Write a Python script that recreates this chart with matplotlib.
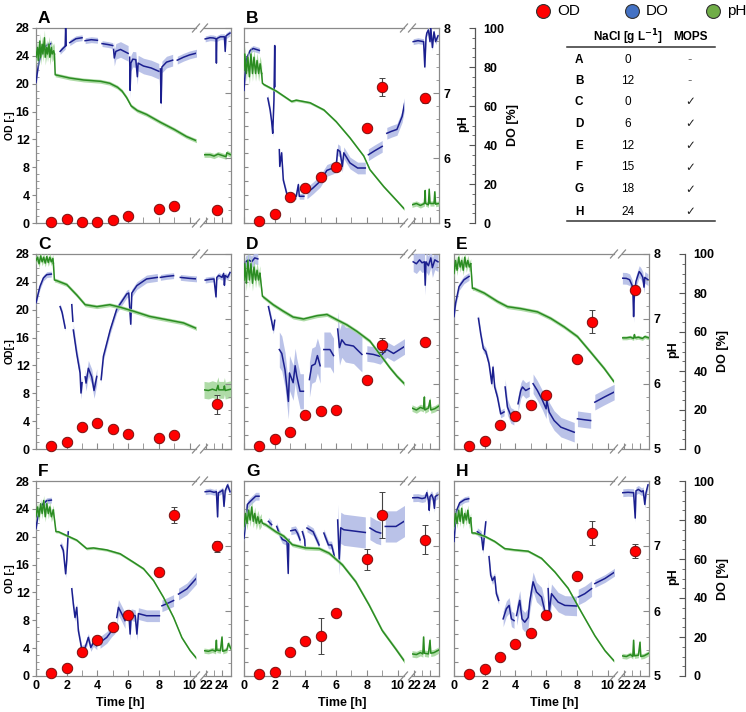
import matplotlib
matplotlib.use('Agg')
import matplotlib.pyplot as plt
import numpy as np
from matplotlib.ticker import FixedLocator, MultipleLocator, NullLocator

plt.rcParams['font.family'] = ['Liberation Sans', 'DejaVu Sans']
plt.rcParams['font.weight'] = 'bold'

# ---------------- data ----------------
OD_T = [1, 2, 3, 4, 5, 6, 8, 9, 23.4]

A_OD = [0.15, 0.6, 0.15, 0.2, 0.4, 1.0, 2.0, 2.4, 1.8]
A_OD_ERR = [0, 0, 0, 0, 0, 0, 0, 0, 0]
A_DO = [
    [(0, 72), (0.1, 78), (0.2, 83), (0.4, 88), (0.6, 90.5), (0.8, 91.5), (1.0, 92)],
    [(1.57, 88), (1.75, 89.5), (1.9, 90.6), (1.93, 100), (1.97, 91)],
    [(2.2, 92.5), (2.6, 94.5), (3.0, 95)],
    [(3.2, 93.5), (3.6, 94), (4.0, 93.7)],
    [(4.3, 92), (4.7, 91.5), (5.0, 91)],
    [(5.05, 89), (5.1, 84.6), (5.2, 88), (5.5, 89), (6.0, 87)],
    [(6.1, 85), (6.13, 68), (6.18, 82), (6.3, 84), (6.5, 83.8), (6.6, 75), (6.65, 82),
     (7.0, 80.5), (7.5, 79.5), (8.0, 77.8)],
    [(8.1, 79), (8.15, 61.5), (8.2, 80), (8.5, 82.5), (8.9, 83.5)],
    [(9.2, 83.5), (9.6, 85), (10.0, 86.2), (10.5, 87.2)],
    [(21.9, 94.4), (22.5, 95), (22.9, 94.9), (23.25, 94.5), (23.3, 82), (23.35, 94.6),
     (23.8, 95.5), (24.3, 95.5), (24.4, 88), (24.5, 96), (25.0, 97.4)],
]
A_DO_SD = [1.5, 1.5, 1.5, 1.5, 1.5, 4, 4, 3, 2, 1.5]
A_PH = [
    [(0, 7.55), (0.1, 7.7), (0.15, 7.5), (0.25, 7.8), (0.3, 7.55), (0.4, 7.75), (0.45, 7.6),
     (0.55, 7.85), (0.6, 7.55), (0.7, 7.7), (0.75, 7.6), (0.85, 7.75), (0.9, 7.55),
     (1.0, 7.7), (1.05, 7.6), (1.15, 7.65), (1.2, 7.6)],
    [(1.2, 7.6), (1.25, 7.28), (2.2, 7.23), (3.1, 7.2), (4.2, 7.18), (4.8, 7.15), (5.3, 7.09),
     (5.6, 7.03), (5.9, 6.93), (6.2, 6.8), (6.6, 6.73), (7.2, 6.67), (8.1, 6.55),
     (9.0, 6.44), (9.8, 6.33), (10.5, 6.26)],
    [(21.75, 6.05), (22.5, 6.05), (23.0, 6.03), (23.5, 6.06), (24.0, 6.04), (24.5, 6.02),
     (24.6, 6.08), (25.1, 6.05)],
]
A_PH_SD = [0.12, 0.03, 0.04]

B_OD = [0.24, 1.3, 3.8, 5.0, 6.6, 8.1, 13.6, 19.5, 17.9]
B_OD_ERR = [0, 0, 0, 0, 0, 0, 0, 1.3, 0.6]
B_DO = [
    [(0, 68), (0.1, 80), (0.2, 85), (0.4, 88.5), (0.6, 89.5), (0.8, 89), (1.0, 88.5)],
    [(1.55, 64), (1.7, 58), (1.8, 52), (1.87, 46), (1.95, 63), (2.0, 91), (2.02, 70)],
    [(2.3, 37.6), (2.33, 29), (2.45, 36), (2.56, 22), (2.8, 14.5), (3.0, 13.7), (3.4, 13.7),
     (3.54, 19.7), (3.6, 13.7), (3.9, 13.7)],
    [(4.1, 15.4), (4.5, 18), (4.96, 21.4), (5.4, 27), (5.8, 28.2), (6.0, 29), (6.1, 37.6),
     (6.25, 36.7), (6.4, 29), (6.5, 36), (6.9, 30.8), (7.4, 28.2), (7.9, 28.2)],
    [(8.1, 35), (8.5, 37), (9.0, 39.3)],
    [(9.3, 46), (9.6, 47), (9.96, 48), (10.3, 54.7), (10.5, 63.2)],
    [(21.9, 93), (22.5, 93.5), (23.2, 93), (23.35, 80), (23.5, 95), (23.6, 97.4), (23.8, 99),
     (24.0, 93), (24.1, 100), (24.3, 90), (24.5, 98), (24.7, 93), (25.0, 96)],
]
B_DO_SD = [1.5, 2, 1.5, 3, 3, 3, 1.5]
B_PH = [
    [(0, 7.35), (0.05, 7.6), (0.15, 7.3), (0.25, 7.55), (0.35, 7.25), (0.45, 7.6), (0.55, 7.3),
     (0.65, 7.55), (0.75, 7.3), (0.85, 7.5), (0.95, 7.3), (1.05, 7.45), (1.15, 7.3)],
    [(1.15, 7.3), (1.2, 7.15), (1.3, 7.13), (2.1, 7.03), (3.1, 6.87), (3.4, 6.89), (4.3, 6.85),
     (5.2, 6.74), (6.0, 6.56), (6.9, 6.31), (7.8, 6.03), (8.2, 5.82), (9.1, 5.56),
     (10.0, 5.33), (10.5, 5.2)],
    [(21.75, 5.28), (22.3, 5.3), (22.8, 5.27), (23.3, 5.3), (23.4, 5.5), (23.45, 5.3),
     (23.8, 5.28), (23.9, 5.52), (24.0, 5.3), (24.5, 5.3), (24.6, 5.48), (24.7, 5.29),
     (25.1, 5.3)],
]
B_PH_SD = [0.12, 0.02, 0.04]

C_OD = [0.38, 1.05, 3.16, 3.7, 2.9, 2.2, 1.6, 2.0, 6.4]
C_OD_ERR = [0, 0, 0, 0, 0, 0, 0, 0, 1.4]
C_DO = [
    [(0, 75), (0.15, 80), (0.26, 83.4), (0.48, 87.7), (0.7, 89.4), (1.0, 89.7)],
    [(1.57, 73), (1.7, 70), (1.9, 62)],
    [(2.33, 74), (2.4, 65.5)],
    [(2.43, 61), (2.65, 49), (2.87, 39), (2.93, 28.7), (3.0, 34)],
    [(3.2, 37), (3.26, 33.8), (3.41, 41.4), (3.63, 37), (3.78, 30), (3.96, 37.2)],
    [(4.24, 35.6), (4.39, 47.5), (4.83, 61), (5.26, 71.8), (5.7, 77), (5.91, 79.5),
     (6.04, 80), (6.17, 64), (6.24, 80), (6.57, 83.8), (7.2, 87.2), (7.9, 88)],
    [(8.1, 88), (8.5, 88.5), (8.96, 88.9)],
    [(9.4, 88), (10.0, 87.5), (10.5, 87.2)],
    [(21.9, 86.6), (22.5, 87), (23.0, 87.2), (23.25, 78), (23.35, 88), (23.6, 89),
     (24.0, 88), (24.2, 90), (24.3, 84), (24.4, 89), (24.7, 88), (25.0, 90.5)],
]
C_DO_SD = [1.5, 1.5, 1.5, 3, 4, 2, 1.5, 1.5, 1.5]
C_PH = [
    [(0, 7.9), (0.1, 7.95), (0.2, 7.85), (0.3, 7.97), (0.4, 7.88), (0.5, 7.95), (0.6, 7.86),
     (0.7, 7.96), (0.8, 7.87), (0.9, 7.95), (1.0, 7.88), (1.1, 7.93), (1.13, 7.86)],
    [(1.13, 7.86), (1.2, 7.6), (1.35, 7.59), (2.0, 7.53), (2.65, 7.37), (3.2, 7.22),
     (3.96, 7.19), (4.8, 7.22), (5.5, 7.18), (6.35, 7.12), (7.4, 7.04), (8.5, 6.99),
     (9.6, 6.94), (10.5, 6.85)],
    [(21.75, 5.91), (22.3, 5.9), (22.8, 5.92), (23.3, 5.9), (23.5, 5.98), (23.6, 5.91),
     (24.2, 5.91), (24.3, 5.97), (24.4, 5.9), (25.1, 5.92)],
]
C_PH_SD = [0.06, 0.03, 0.13]

D_OD = [0.48, 1.44, 2.44, 4.9, 5.4, 5.55, 9.9, 15.0, 15.3]
D_OD_ERR = [0, 0, 0, 0, 0, 0, 0, 1.0, 0]
D_DO = [
    [(0, 90), (0.1, 96), (0.3, 97), (0.5, 96), (0.7, 98), (0.9, 97.5)],
    [(1.59, 73), (1.8, 65.5), (1.91, 61), (2.0, 66)],
    [(2.3, 51), (2.46, 49), (2.67, 40.6), (2.89, 24.4), (2.96, 39), (3.2, 34), (3.33, 42.7),
     (3.43, 37.6), (3.65, 29.6), (3.87, 29.6)],
    [(4.26, 35.6), (4.41, 42.7), (4.63, 43.6), (4.78, 47.9), (4.96, 42.7)],
    [(5.2, 51), (5.6, 51), (5.83, 47.9)],
    [(6.1, 61.5), (6.22, 52), (6.37, 56), (6.6, 53.6), (7.13, 52.8), (7.46, 50.2),
     (7.68, 48.5)],
    [(8.0, 49), (8.43, 48.5), (8.87, 47.5), (9.3, 51), (9.74, 49), (10.5, 52.8)],
    [(21.9, 96), (22.3, 95), (22.7, 97), (23.0, 95.5), (23.3, 96), (23.4, 84), (23.5, 96),
     (23.8, 94), (24.1, 98), (24.3, 93), (24.6, 97), (25.0, 96)],
]
D_DO_SD = [3, 2, 9, 9, 9, 9, 4, 5]
D_PH = [
    [(0, 7.6), (0.05, 7.85), (0.15, 7.55), (0.25, 7.9), (0.35, 7.6), (0.45, 7.85),
     (0.55, 7.55), (0.65, 7.8), (0.75, 7.6), (0.85, 7.75), (0.95, 7.6), (1.04, 7.7)],
    [(1.04, 7.7), (1.2, 7.35), (1.9, 7.22), (2.56, 7.12), (3.2, 7.03), (3.87, 7.0),
     (4.74, 7.05), (5.4, 7.07), (6.04, 6.99), (6.7, 6.91), (7.35, 6.81), (8.2, 6.66),
     (8.87, 6.45), (9.5, 6.25), (9.96, 6.12), (10.5, 5.99)],
    [(21.75, 5.63), (22.3, 5.6), (22.8, 5.64), (23.2, 5.62), (23.3, 5.8), (23.35, 5.6),
     (23.8, 5.63), (24.0, 5.75), (24.1, 5.6), (24.6, 5.62), (25.1, 5.66)],
]
D_PH_SD = [0.12, 0.03, 0.05]

E_OD = [0.38, 1.2, 3.4, 4.7, 6.25, 7.8, 12.9, 18.3, 22.9]
E_OD_ERR = [0, 0, 0, 0, 0, 0, 0, 1.6, 0]
E_DO = [
    [(0, 67.9), (0.1, 74.7), (0.33, 83.3), (0.65, 86.8), (0.98, 88.5)],
    [(1.59, 67), (1.74, 59), (1.91, 51.5), (2.07, 50), (2.28, 43.8), (2.46, 33.5),
     (2.54, 42), (2.65, 31.8), (2.83, 26.6), (3.04, 18), (3.26, 19)],
    [(3.33, 31.8), (3.48, 21.5), (3.7, 17.2), (3.9, 16.3)],
    [(4.17, 23.2), (4.35, 30), (4.46, 31.8), (4.67, 30), (4.9, 31)],
    [(5.15, 33.5), (5.43, 30), (5.76, 25), (6.0, 20.6), (6.04, 25), (6.2, 18.9),
     (6.52, 14.6), (6.96, 11.2), (7.83, 8.6)],
    [(8.04, 15.5), (8.5, 15), (8.9, 14.6)],
    [(9.17, 24), (9.78, 26.6), (10.43, 29.2)],
    [(21.8, 87.6), (22.3, 87.5), (22.7, 86.8), (23.0, 84), (23.1, 82.5), (23.2, 67.9),
     (23.3, 80), (23.5, 86), (23.9, 91), (24.1, 90), (24.35, 88), (24.5, 83), (24.6, 88),
     (25.0, 86.8)],
]
E_DO_SD = [2, 2, 4, 4, 5, 4, 4, 3]
E_PH = [
    [(0, 7.7), (0.1, 7.9), (0.2, 7.75), (0.3, 7.95), (0.4, 7.8), (0.5, 7.9), (0.6, 7.75),
     (0.7, 7.95), (0.8, 7.8), (0.9, 7.9), (1.0, 7.8), (1.09, 7.85)],
    [(1.09, 7.85), (1.2, 7.47), (1.3, 7.47), (1.96, 7.4), (2.83, 7.27), (3.48, 7.19),
     (4.35, 7.16), (5.43, 7.11), (6.3, 7.01), (7.17, 6.88), (8.04, 6.73), (8.9, 6.49),
     (9.78, 6.24), (10.4, 6.04)],
    [(21.75, 6.71), (22.3, 6.71), (22.8, 6.72), (23.2, 6.7), (23.3, 6.76), (23.4, 6.71),
     (23.8, 6.72), (24.3, 6.7), (24.6, 6.73), (25.1, 6.71)],
]
E_PH_SD = [0.08, 0.03, 0.03]

F_OD = [0.43, 1.1, 3.5, 5.2, 7.0, 8.76, 14.9, 23.1, 18.6]
F_OD_ERR = [0, 0, 0, 0, 0, 0, 0, 1.2, 0.8]
F_DO = [
    [(0, 75.6), (0.15, 83.3), (0.37, 87.6), (0.7, 89.9), (1.0, 90.2)],
    [(1.63, 67), (1.78, 64.4), (1.93, 52.4), (2.0, 59.3), (2.1, 73.9)],
    [(2.33, 44.7), (2.43, 37), (2.54, 30), (2.65, 35.2), (2.76, 23.2), (2.98, 13.7),
     (3.2, 14.6), (3.41, 19.8), (3.57, 14.6), (3.74, 17.2), (3.96, 15.5)],
    [(4.17, 17.2), (4.61, 19.8), (4.93, 23.2), (5.15, 24.9)],
    [(5.26, 30), (5.37, 35.2), (5.59, 31.8), (5.8, 28.4)],
    [(6.04, 32.6), (6.13, 21.5), (6.2, 31.5), (6.46, 30.9), (6.57, 21.5), (6.67, 32),
     (7.2, 30.9), (8.04, 30.9)],
    [(8.2, 36), (8.5, 37), (8.96, 38.7)],
    [(9.28, 42), (9.83, 44.7), (10.6, 51.5)],
    [(21.9, 94.5), (22.5, 94.8), (23.0, 94.2), (23.3, 94.5), (23.45, 81.6), (23.55, 94),
     (23.8, 94.5), (24.1, 95.4), (24.25, 87), (24.4, 95), (24.7, 98), (25.0, 94.5)],
]
F_DO_SD = [1.5, 2, 2, 3, 4, 3, 3, 3, 1.5]
F_PH = [
    [(0, 7.45), (0.1, 7.6), (0.2, 7.45), (0.3, 7.65), (0.4, 7.5), (0.5, 7.7), (0.6, 7.45),
     (0.7, 7.65), (0.8, 7.5), (0.9, 7.6), (1.0, 7.45), (1.13, 7.55)],
    [(1.13, 7.55), (1.3, 7.22), (1.45, 7.22), (2.0, 7.16), (2.65, 7.09), (3.3, 6.96),
     (3.74, 6.97), (4.6, 6.94), (5.48, 6.88), (6.35, 6.75), (7.0, 6.65), (7.65, 6.47),
     (8.3, 6.21), (8.96, 5.9), (9.5, 5.59), (10.04, 5.39), (10.6, 5.23)],
    [(21.75, 5.39), (22.3, 5.38), (22.8, 5.4), (23.2, 5.38), (23.3, 5.55), (23.35, 5.4),
     (23.8, 5.39), (24.0, 5.6), (24.1, 5.38), (24.6, 5.4), (24.8, 5.5), (25.1, 5.42)],
]
F_PH_SD = [0.08, 0.02, 0.04]

G_OD = [0.34, 0.58, 3.38, 5.0, 5.7, 9.1, 16.75, 23.1, 19.6]
G_OD_ERR = [0, 0, 0, 0, 2.6, 0, 1.55, 3.3, 2.1]
G_DO = [
    [(0, 70.7), (0.22, 88), (0.43, 89.7), (0.76, 92.2), (0.98, 92.2)],
    [(1.59, 79.3), (1.8, 77.6)],
    [(2.13, 76.7), (2.3, 73), (2.5, 70), (2.8, 69), (2.88, 52.6), (2.92, 70)],
    [(3.05, 74.5), (3.35, 75), (3.5, 73), (3.65, 69.8)],
    [(3.8, 74), (3.95, 70), (3.98, 66)],
    [(4.1, 75.9), (4.5, 74), (4.89, 67.2)],
    [(5.2, 73.3), (5.5, 67.2), (5.7, 67.2), (5.89, 61.2)],
    [(6.1, 80), (6.2, 60), (6.3, 76), (6.5, 75), (7.0, 74.5), (7.5, 74), (7.9, 73.6)],
    [(8.2, 75.9), (8.6, 74), (8.9, 73.3)],
    [(9.2, 76.7), (9.9, 76.7), (10.5, 79.7)],
    [(21.85, 91.4), (22.5, 91.5), (23.0, 91), (23.4, 91.4), (23.6, 94), (23.8, 90),
     (23.9, 85), (24.0, 92), (24.2, 93), (24.4, 91), (24.55, 86), (24.65, 92), (25.0, 93)],
]
G_DO_SD = [2, 2, 2, 2, 2, 2, 2, 8, 6, 8, 2]
G_PH = [
    [(0, 7.3), (0.1, 7.5), (0.2, 7.35), (0.3, 7.55), (0.4, 7.4), (0.5, 7.6), (0.6, 7.38),
     (0.7, 7.5), (0.8, 7.35), (0.9, 7.45), (1.0, 7.35), (1.13, 7.4)],
    [(1.13, 7.4), (1.2, 7.35), (1.4, 7.33), (2.07, 7.22), (2.6, 7.15), (3.15, 7.02),
     (4.0, 6.97), (4.9, 6.96), (5.54, 6.89), (6.41, 6.71), (7.28, 6.45), (8.15, 6.09),
     (9.0, 5.7), (9.9, 5.41), (10.5, 5.21)],
    [(21.75, 5.34), (22.3, 5.33), (22.8, 5.36), (23.1, 5.34), (23.2, 5.6), (23.3, 5.35),
     (23.8, 5.34), (24.0, 5.55), (24.1, 5.35), (24.5, 5.36), (25.1, 5.4)],
]
G_PH_SD = [0.1, 0.03, 0.05]

H_OD = [0.24, 0.97, 2.8, 4.6, 6.2, 8.7, 14.3, 20.5, 17.9]
H_OD_ERR = [0, 0, 0, 0, 0, 0, 0.5, 1.7, 1.0]
H_DO = [
    [(0, 69), (0.15, 84.5), (0.37, 88.8), (0.7, 90.5), (0.96, 90.9)],
    [(1.52, 74), (1.78, 72.4), (1.89, 64.7), (2.0, 74), (2.07, 79)],
    [(2.28, 61.2), (2.39, 51.7), (2.5, 49), (2.65, 50.9), (2.76, 42.2), (2.91, 38.8)],
    [(3.2, 29.3), (3.41, 34.5), (3.59, 36.2), (3.74, 29.3), (3.91, 28.4)],
    [(4.07, 31), (4.28, 38.8), (4.43, 29.3), (4.61, 27.6), (4.83, 30), (4.93, 37.9),
     (5.15, 48.3), (5.37, 43.1), (5.7, 40.5), (5.91, 33.6)],
    [(6.13, 44.8), (6.2, 32.8), (6.35, 42.2), (6.78, 37.9), (7.22, 36.2), (7.98, 35.9)],
    [(8.09, 40.5), (8.52, 42.2), (8.96, 44.8)],
    [(9.17, 47.4), (9.83, 50), (10.48, 53.4)],
    [(21.85, 94), (22.5, 94.2), (23.2, 94), (23.4, 81), (23.5, 95), (23.8, 95.7),
     (24.2, 94.5), (24.4, 95), (24.6, 88), (24.75, 94), (25.0, 98)],
]
H_DO_SD = [1.5, 2, 2, 4, 5, 5, 4, 2, 2]
H_PH = [
    [(0, 7.3), (0.1, 7.5), (0.2, 7.35), (0.3, 7.55), (0.4, 7.38), (0.5, 7.58), (0.6, 7.35),
     (0.7, 7.5), (0.8, 7.4), (0.9, 7.55), (1.0, 7.35), (1.09, 7.43)],
    [(1.09, 7.43), (1.17, 7.2), (1.35, 7.2), (2.0, 7.15), (2.65, 7.07), (3.3, 6.96),
     (3.96, 6.94), (4.83, 6.92), (5.7, 6.81), (6.57, 6.6), (7.43, 6.35), (8.3, 5.98),
     (9.17, 5.62), (9.83, 5.39), (10.43, 5.23)],
    [(21.75, 5.31), (22.3, 5.3), (22.8, 5.33), (23.1, 5.3), (23.2, 5.55), (23.3, 5.31),
     (23.8, 5.32), (24.0, 5.52), (24.1, 5.3), (24.5, 5.31), (25.1, 5.35)],
]
H_PH_SD = [0.08, 0.02, 0.04]

TABLE_ROWS = ['A', 'B', 'C', 'D', 'E', 'F', 'G', 'H']
TABLE_NACL = ['0', '12', '0', '6', '12', '15', '18', '24']
TABLE_MOPS = [False, False, True, True, True, True, True, True]
LEGEND_LABELS = ['OD', 'DO', 'pH']

PANEL_DATA = {
    'A': (A_OD, A_OD_ERR, A_DO, A_DO_SD, A_PH, A_PH_SD),
    'B': (B_OD, B_OD_ERR, B_DO, B_DO_SD, B_PH, B_PH_SD),
    'C': (C_OD, C_OD_ERR, C_DO, C_DO_SD, C_PH, C_PH_SD),
    'D': (D_OD, D_OD_ERR, D_DO, D_DO_SD, D_PH, D_PH_SD),
    'E': (E_OD, E_OD_ERR, E_DO, E_DO_SD, E_PH, E_PH_SD),
    'F': (F_OD, F_OD_ERR, F_DO, F_DO_SD, F_PH, F_PH_SD),
    'G': (G_OD, G_OD_ERR, G_DO, G_DO_SD, G_PH, G_PH_SD),
    'H': (H_OD, H_OD_ERR, H_DO, H_DO_SD, H_PH, H_PH_SD),
}

# ---------------- layout ----------------
W, H = 746, 712
fig = plt.figure(figsize=(W / 100, H / 100), dpi=100)

PW, PHT = 195, 195
LW, GAP, RW = 160, 8, 27
XL_LEFT = (0, 10.42)
XL_RIGHT = (21.75, 25.125)
POS = {'A': (36, 28), 'B': (244, 28), 'C': (36, 254), 'D': (244, 254), 'E': (454, 254),
       'F': (36, 481), 'G': (244, 481), 'H': (454, 481)}
FIRST_COL = {'A', 'C', 'F'}
RIGHT_AXIS = {'B', 'E', 'H'}
BOTTOM_ROW = {'F', 'G', 'H'}
OD_LABEL = {'A': 'OD [-]', 'C': 'OD[-]', 'F': 'OD [-]'}
TIME_X = {'F': 120, 'G': 342, 'H': 554}

FRAME = '#8a8a8a'
DO_C = '#1b1f8f'
DO_F = '#b3bce6'
PH_C = '#2b8c22'
PH_F = '#a6d89e'
OD_C = '#ff0000'
OD_E = '#7a1010'


def add_ax(x, y, w, h):
    return fig.add_axes([x / W, 1 - (y + h) / H, w / W, h / H])


def hide_spines(a):
    for s in a.spines.values():
        s.set_visible(False)


for letter, (od, od_err, do_segs, do_sd, ph_segs, ph_sd) in PANEL_DATA.items():
    x0, y0 = POS[letter]
    parts = {}
    for part in ('L', 'R'):
        if part == 'L':
            ax = add_ax(x0, y0, LW, PHT)
            ax.set_xlim(*XL_LEFT)
        else:
            ax = add_ax(x0 + LW + GAP, y0, RW, PHT)
            ax.set_xlim(*XL_RIGHT)
        ax.set_ylim(0, 28)
        ax.patch.set_visible(False)
        for s in ax.spines.values():
            s.set_color(FRAME)
            s.set_linewidth(0.9)
        if part == 'L':
            ax.spines['right'].set_visible(False)
            ax.xaxis.set_major_locator(FixedLocator([0, 2, 4, 6, 8, 10]))
            ax.xaxis.set_minor_locator(FixedLocator([1, 3, 5, 7, 9]))
            if letter in FIRST_COL:
                ax.yaxis.set_major_locator(MultipleLocator(4))
                ax.yaxis.set_minor_locator(MultipleLocator(1))
                ax.tick_params(axis='y', which='major', direction='out', length=3,
                               color=FRAME, labelsize=9, pad=1.5)
                ax.tick_params(axis='y', which='minor', direction='in', length=2.5,
                               color=FRAME)
            else:
                ax.yaxis.set_major_locator(MultipleLocator(2))
                ax.yaxis.set_minor_locator(NullLocator())
                ax.tick_params(axis='y', which='major', direction='in', length=3,
                               color=FRAME, labelleft=False)
        else:
            ax.spines['left'].set_visible(False)
            ax.xaxis.set_major_locator(FixedLocator([22, 24]))
            ax.xaxis.set_minor_locator(FixedLocator([23]))
            ax.set_yticks([])
        ax.tick_params(axis='x', which='both', direction='in', length=4, color=FRAME,
                       labelsize=9, pad=3, labelbottom=letter in BOTTOM_ROW)

        do_ax = ax.twinx()
        do_ax.set_ylim(0, 100)
        hide_spines(do_ax)
        ph_ax = ax.twinx()
        ph_ax.set_ylim(5, 8)
        hide_spines(ph_ax)
        od_ax = ax.twinx()
        od_ax.set_ylim(0, 28)
        hide_spines(od_ax)
        od_ax.set_yticks([])

        if part == 'R':
            ph_ax.yaxis.set_major_locator(MultipleLocator(1))
            ph_ax.yaxis.set_minor_locator(MultipleLocator(0.2))
            ph_ax.tick_params(axis='y', which='major', direction='in', length=4,
                              color=FRAME, labelsize=9, pad=3,
                              labelright=letter in RIGHT_AXIS)
            ph_ax.tick_params(axis='y', which='minor', direction='in', length=2.5,
                              color=FRAME)
            if letter in RIGHT_AXIS:
                do_ax.spines['right'].set_visible(True)
                do_ax.spines['right'].set_position(('outward', 36 * 0.72))
                do_ax.spines['right'].set_color('#555555')
                do_ax.spines['right'].set_linewidth(0.9)
                do_ax.yaxis.set_major_locator(MultipleLocator(20))
                do_ax.yaxis.set_minor_locator(MultipleLocator(5))
                do_ax.tick_params(axis='y', which='major', direction='in', length=4,
                                  color='#555555', labelsize=9, pad=6)
                do_ax.tick_params(axis='y', which='minor', direction='in', length=2.5,
                                  color='#555555')
            else:
                do_ax.set_yticks([])
        else:
            ph_ax.set_yticks([])
            do_ax.set_yticks([])
        parts[part] = (ax, do_ax, ph_ax, od_ax)

    # DO traces
    for seg, sd in zip(do_segs, do_sd):
        arr = np.array(seg, dtype=float)
        t, v = arr[:, 0], arr[:, 1]
        tgt = parts['R' if t[0] > 15 else 'L'][1]
        tgt.fill_between(t, v - sd, v + sd, color=DO_F, lw=0, alpha=0.9)
        tgt.plot(t, v, color=DO_C, lw=1.1)
    # pH traces
    for seg, sd in zip(ph_segs, ph_sd):
        arr = np.array(seg, dtype=float)
        t, v = arr[:, 0], arr[:, 1]
        tgt = parts['R' if t[0] > 15 else 'L'][2]
        tgt.fill_between(t, v - sd, v + sd, color=PH_F, lw=0, alpha=0.9)
        tgt.plot(t, v, color=PH_C, lw=1.1)
    # OD points
    for t, v, e in zip(OD_T, od, od_err):
        tgt = parts['R' if t > 15 else 'L'][3]
        tgt.errorbar([t], [v], yerr=[e] if e > 0 else None, fmt='o', ms=7.5,
                     mfc=OD_C, mec=OD_E, mew=0.7, ecolor='#444444', elinewidth=0.8,
                     capsize=2, clip_on=False, zorder=6)

# ---------------- overlay (labels, breaks, legend, table) ----------------
ov = fig.add_axes([0, 0, 1, 1])
ov.set_xlim(0, W)
ov.set_ylim(H, 0)
ov.axis('off')
ov.patch.set_visible(False)

for letter in PANEL_DATA:
    x0, y0 = POS[letter]
    ov.text(x0 + 2, y0 - 5, letter, fontsize=12.5, fontweight='bold', ha='left',
            va='baseline')
    for yy in (y0, y0 + PHT):
        for xx in (x0 + LW, x0 + LW + GAP):
            ov.plot([xx - 3.5, xx + 3.5], [yy + 4, yy - 4], color=FRAME, lw=0.9)
    if letter in OD_LABEL:
        ov.text(10, y0 + PHT / 2, OD_LABEL[letter], rotation=90, fontsize=7.5,
                fontweight='bold', ha='center', va='center')
    if letter in RIGHT_AXIS:
        ov.text(x0 + PW + 24, y0 + PHT / 2 - 2, 'pH', rotation=90, fontsize=9,
                fontweight='bold', ha='center', va='center')
        ov.text(x0 + PW + 74, y0 + PHT / 2, 'DO [%]', rotation=90, fontsize=9,
                fontweight='bold', ha='center', va='center')
    if letter in BOTTOM_ROW:
        ov.text(TIME_X[letter], 703, 'Time [h]', fontsize=9, fontweight='bold',
                ha='center', va='center')

# legend
LEG_COLORS = ['#ff0000', '#4472c4', '#70ad47']
for lab, col, xc in zip(LEGEND_LABELS, LEG_COLORS, [543, 632, 713]):
    ov.plot([xc], [11], 'o', ms=10, mfc=col, mec='#333333', mew=0.8, clip_on=False)
    ov.text(xc + 14, 11, lab, fontsize=11, fontweight='normal', ha='left', va='center')

# table
ov.text(628, 37, 'NaCl [g L$^{\\mathbf{-1}}$]', fontsize=8.5, fontweight='bold',
        ha='center', va='center')
ov.text(690, 37, 'MOPS', fontsize=8.5, fontweight='bold', ha='center', va='center')
ov.plot([567, 715], [47, 47], color='#333333', lw=1.1)
ov.plot([567, 715], [221, 221], color='#333333', lw=1.1)
ROW_Y = [60, 81, 102, 124, 146, 167, 189, 212]
for r, nacl, mops, yy in zip(TABLE_ROWS, TABLE_NACL, TABLE_MOPS, ROW_Y):
    ov.text(579, yy, r, fontsize=8.5, fontweight='bold', ha='center', va='center')
    ov.text(628, yy, nacl, fontsize=8.5, fontweight='normal', ha='center', va='center')
    ov.text(690, yy, '\u2713' if mops else '-', fontsize=8.5, fontweight='normal',
            ha='center', va='center', family=['DejaVu Sans'],
            color='#222222' if mops else '#777777')

fig.savefig('out.png', dpi=100)
